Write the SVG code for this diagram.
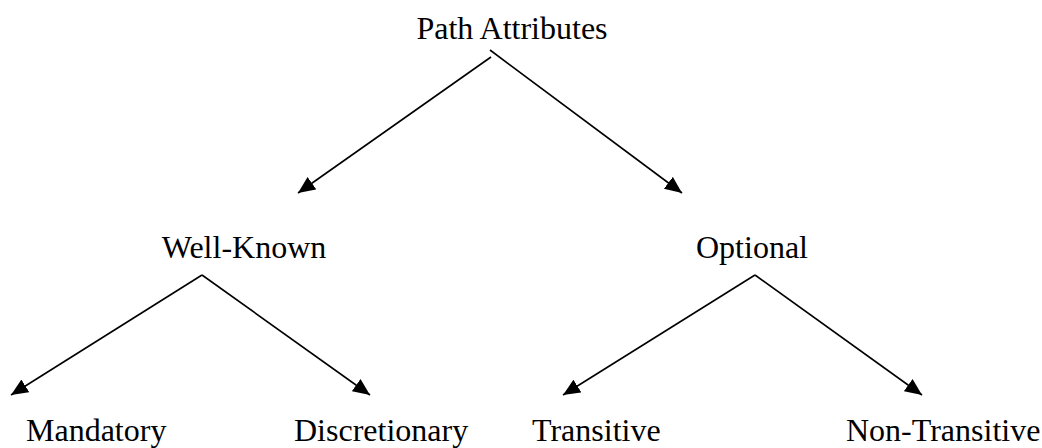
<svg xmlns="http://www.w3.org/2000/svg" width="1042" height="448" viewBox="0 0 1042 448">
  <style>
    .label { font-family: "Liberation Serif", "Times New Roman", serif; font-size: 32px; fill: #000; }
    .edge { stroke: #000; stroke-width: 1.6; fill: none; marker-end: url(#arrow); }
  </style>
  <defs>
    <marker id="arrow" markerUnits="userSpaceOnUse" markerWidth="20" markerHeight="16" refX="17" refY="7.5" orient="auto">
      <path d="M0,0 L17,7.5 L0,15 Z" fill="#000"/>
    </marker>
  </defs>
  <rect width="1042" height="448" fill="#fff"/>

  <g id="connectors">
    <line class="edge" x1="491" y1="57" x2="298" y2="193"/>
    <line class="edge" x1="490" y1="50" x2="682" y2="193"/>
    <line class="edge" x1="202" y1="275" x2="11" y2="395"/>
    <line class="edge" x1="202" y1="275" x2="370" y2="395"/>
    <line class="edge" x1="755" y1="275" x2="563" y2="395"/>
    <line class="edge" x1="755" y1="275" x2="922" y2="395"/>
  </g>

  <g id="path-attributes"><text class="label" x="512" y="39" text-anchor="middle">Path Attributes</text></g>
  <g id="well-known"><text class="label" x="244" y="258" text-anchor="middle">Well-Known</text></g>
  <g id="optional"><text class="label" x="752" y="258" text-anchor="middle">Optional</text></g>
  <g id="mandatory"><text class="label" x="26" y="441">Mandatory</text></g>
  <g id="discretionary"><text class="label" x="294" y="441">Discretionary</text></g>
  <g id="transitive"><text class="label" x="532" y="441">Transitive</text></g>
  <g id="non-transitive"><text class="label" x="846" y="441">Non-Transitive</text></g>
</svg>
